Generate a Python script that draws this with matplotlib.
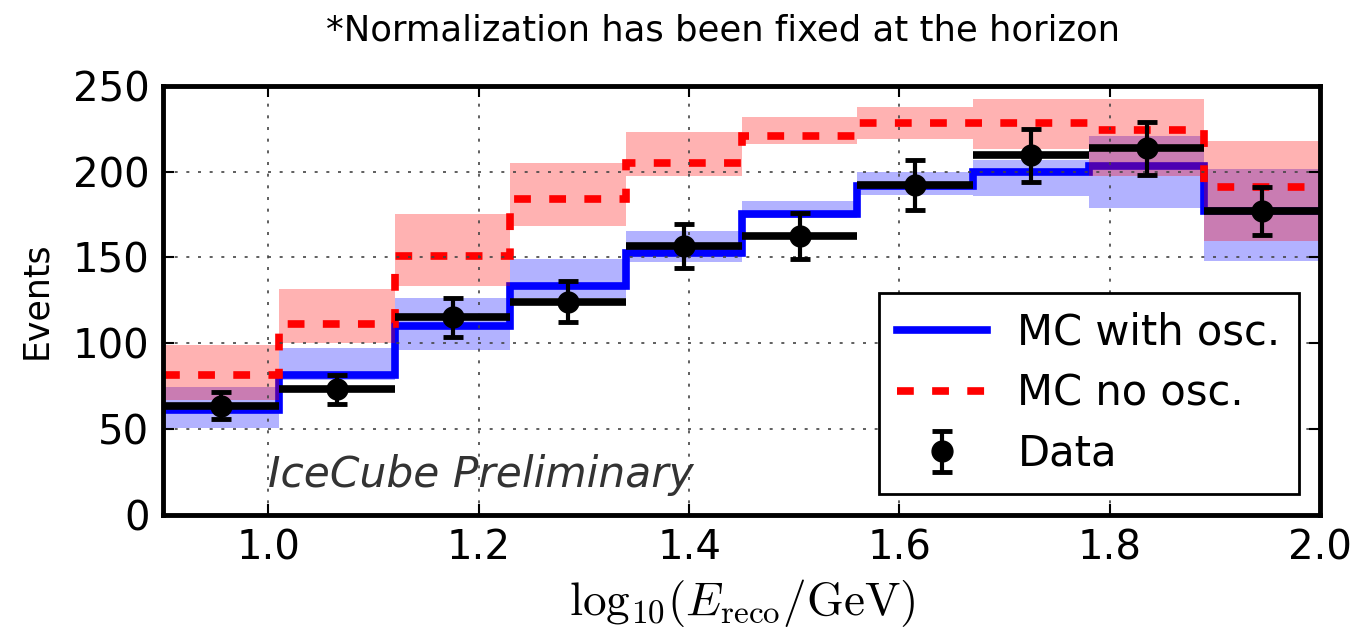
import matplotlib
matplotlib.use("Agg")
import matplotlib.pyplot as plt

# binning in log10(E_reco / GeV)
edges = [0.9, 1.01, 1.12, 1.23, 1.34, 1.45, 1.56, 1.67, 1.78, 1.89, 2.0]

# MC with oscillations and its systematic band
mc_osc = [61, 81.5, 110, 133, 152.5, 175.5, 191.5, 199.5, 203.5, 177]
osc_lo = [50.5, 78.5, 96, 126.5, 147.5, 173, 186.5, 185.5, 179, 148]
osc_hi = [74.5, 97, 126.5, 149, 165.5, 183, 199.5, 207, 220.5, 201.5]

# MC without oscillations and its systematic band
mc_noosc = [81.5, 111, 151, 184, 205, 221, 228.5, 228.5, 224, 191]
noosc_lo = [67, 100, 133, 168, 197.5, 216, 219, 213, 197.5, 159.5]
noosc_hi = [99, 131.5, 175, 205, 223, 231.5, 237.5, 242, 242, 218]

# observed events
data = [63.5, 73, 115, 124, 156.5, 162.5, 192, 209.5, 213.5, 177]
data_err = [8, 8.5, 11.5, 12, 13, 13.5, 14.5, 15.5, 15.5, 14]

plt.rcParams['mathtext.fontset'] = 'cm'

fig = plt.figure(figsize=(13.61, 6.4), dpi=100)
ax = fig.add_axes([0.12, 0.196, 0.85, 0.67])

centers = [(edges[i] + edges[i + 1]) / 2 for i in range(len(data))]
half_w = [(edges[i + 1] - edges[i]) / 2 for i in range(len(data))]

ax.stairs(osc_hi, edges, baseline=osc_lo, fill=True, color='blue', alpha=0.3, lw=0)
ax.stairs(mc_osc, edges, baseline=None, color='blue', lw=5.5, label='MC with osc.')
ax.stairs(noosc_hi, edges, baseline=noosc_lo, fill=True, color='red', alpha=0.3, lw=0)
ax.stairs(mc_noosc, edges, baseline=None, color='red', lw=5.5,
          linestyle=(0, (2.2, 2.4)), label='MC no osc.')

ax.errorbar(centers, data, xerr=half_w, fmt='none', ecolor='black', elinewidth=5.5,
            capsize=0)
ax.errorbar(centers, data, yerr=data_err, fmt='ko', ms=15, elinewidth=3,
            capsize=7.5, capthick=3.5, label='Data')

ax.set_xlim(0.9, 2.0)
ax.set_ylim(0, 250)
ax.set_xticks([1.0, 1.2, 1.4, 1.6, 1.8, 2.0])
ax.set_yticks([0, 50, 100, 150, 200, 250])
ax.tick_params(direction='in', length=8, width=1.5, top=True, right=True,
               labelsize=29, pad=10)
ax.grid(True, color='#444444', linestyle=(0, (1.8, 5.2)), lw=1.2)
for sp in ax.spines.values():
    sp.set_linewidth(3.5)

ax.set_xlabel(r'$\mathrm{log}_{10}(E_{\rm reco}/{\rm GeV})$', fontsize=34, labelpad=6)
ax.set_ylabel('Events', fontsize=25, labelpad=14)
fig.text(0.531, 0.952, '*Normalization has been fixed at the horizon',
         ha='center', va='center', fontsize=25.5)

ax.text(1.0, 23, 'IceCube Preliminary', fontsize=30.5, style='italic',
        color='#333333', va='center')

handles, labels = ax.get_legend_handles_labels()
leg = ax.legend(handles, labels, loc='lower right', fontsize=30, fancybox=False,
                framealpha=1, edgecolor='black', borderaxespad=0.5, borderpad=0.45,
                labelspacing=0.45, handlelength=2.16, handletextpad=0.72)
leg.get_frame().set_linewidth(2)

fig.savefig('out.png', dpi=100)
